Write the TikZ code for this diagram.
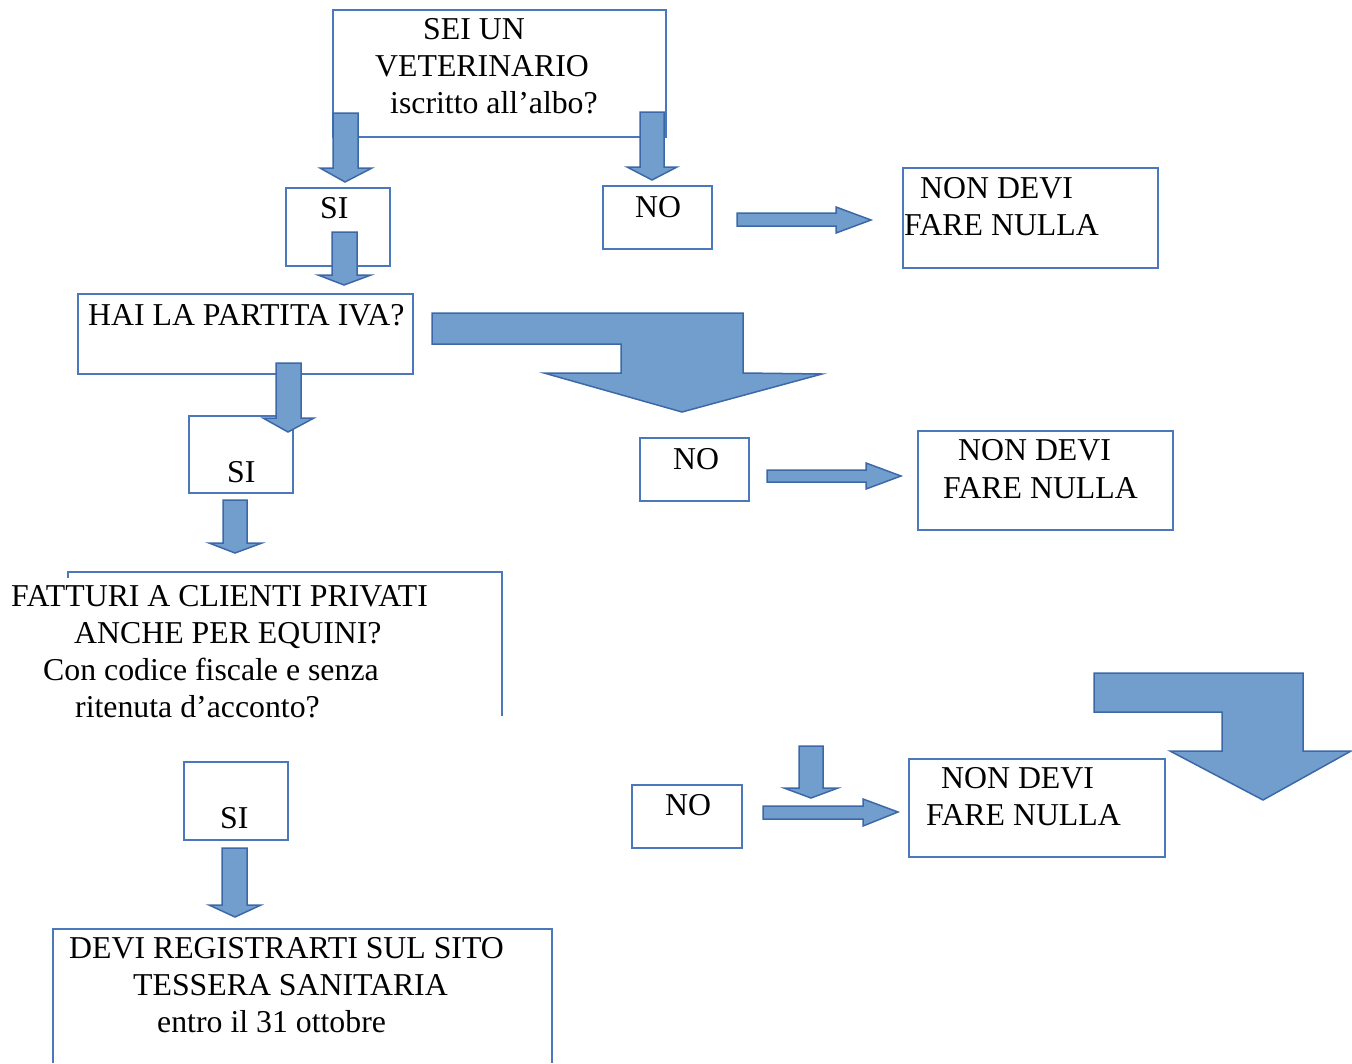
\documentclass[tikz,border=0pt]{standalone}
\usepackage{fontspec}
\setmainfont{Liberation Serif}
\definecolor{boxline}{RGB}{74,120,186}
\definecolor{arrfill}{RGB}{114,158,206}
\definecolor{arrline}{RGB}{60,104,168}
\tikzset{
  box/.style={draw=boxline, line width=1.2pt, fill=white, anchor=north west, inner sep=0pt, outer sep=0pt},
  txt/.style={anchor=base west, inner sep=0pt, font=\fontsize{31.8}{37}\selectfont, text=black},
  blk/.style={fill=arrfill, draw=arrline, line width=1.5pt, line join=miter}
}
\begin{document}
\begin{tikzpicture}[x=1pt,y=-1pt]
\useasboundingbox (0,0) rectangle (1352,1063);
% boxes
\node[box, minimum width=333pt, minimum height=127pt] (q1) at (333,10) {};
\node[box, minimum width=104pt, minimum height=78pt] (si1) at (286,188) {};
\node[box, minimum width=109pt, minimum height=63pt] (no1) at (603,186) {};
\node[box, minimum width=255pt, minimum height=100pt] (nd1) at (903,168) {};
\node[box, minimum width=335pt, minimum height=80pt] (q2) at (78,294) {};
\node[box, minimum width=104pt, minimum height=77pt] (si2) at (189,416) {};
\node[box, minimum width=109pt, minimum height=63pt] (no2) at (640,438) {};
\node[box, minimum width=255pt, minimum height=99pt] (nd2) at (918,431) {};
\draw[boxline, line width=1.2pt] (68,578) coordinate (q3a) -- (68,572) -- (502,572) -- (502,716) coordinate (q3b);
\node[box, minimum width=104pt, minimum height=78pt] (si3) at (184,762) {};
\node[box, minimum width=110pt, minimum height=63pt] (no3) at (632,785) {};
\node[box, minimum width=256pt, minimum height=98pt] (nd3) at (909,759) {};
\draw[boxline, line width=1.2pt] (53,1063) coordinate (fa) -- (53,929) -- (552,929) -- (552,1063) coordinate (fb);
% down block arrows
\draw[blk] (333,113) -- (358,113) -- (358,168) -- (372,168) -- (345,182) -- (320,168) -- (333,168) -- cycle;
\draw[blk] (640,112) -- (664,112) -- (664,167) -- (677,167) -- (652,180) -- (627,167) -- (640,167) -- cycle;
\draw[blk] (332,232) -- (357,232) -- (357,275) -- (371,275) -- (344,285) -- (318,275) -- (332,275) -- cycle;
\draw[blk] (276,363) -- (301,363) -- (301,418) -- (314,418) -- (288,432) -- (263,418) -- (276,418) -- cycle;
\draw[blk] (223,500) -- (247,500) -- (247,543) -- (262,543) -- (235,553) -- (209,543) -- (223,543) -- cycle;
\draw[blk] (222,848) -- (247,848) -- (247,905) -- (261,905) -- (235,917) -- (209,905) -- (222,905) -- cycle;
\draw[blk] (799,746) -- (823,746) -- (823,788) -- (838,788) -- (811,798) -- (784,788) -- (799,788) -- cycle;
% right block arrows
\draw[blk] (737,213) -- (836,213) -- (836,207) -- (871,220) -- (836,233) -- (836,226) -- (737,226) -- cycle;
\draw[blk] (767,470) -- (866,470) -- (866,463) -- (901,476) -- (866,489) -- (866,482) -- (767,482) -- cycle;
\draw[blk] (763,806) -- (863,806) -- (863,799) -- (898,812) -- (863,826) -- (863,819) -- (763,819) -- cycle;
% bent block arrows
\draw[blk] (432,313) -- (743,313) -- (743,373) -- (822,374) -- (682,412) -- (544,373) -- (621,373) -- (621,344) -- (432,344) -- cycle;
\draw[blk] (1094,673) -- (1303,673) -- (1303,751) -- (1351,751) -- (1263,800) -- (1170,751) -- (1222,751) -- (1222,712) -- (1094,712) -- cycle;
% texts
\node[txt] (q1a) at (423,39) {SEI UN};
\node[txt] (q1b) at (375,76) {VETERINARIO};
\node[txt] (q1c) at (390,113) {iscritto all’albo?};
\node[txt] (si1t) at (320,218) {SI};
\node[txt] (no1t) at (635,217) {NO};
\node[txt] (nd1a) at (920,198) {NON DEVI};
\node[txt] (nd1b) at (904,235) {FARE NULLA};
\node[txt] (q2t) at (88,325) {HAI LA PARTITA IVA?};
\node[txt] (si2t) at (227,482) {SI};
\node[txt] (no2t) at (673,469) {NO};
\node[txt] (nd2a) at (958,460) {NON DEVI};
\node[txt] (nd2b) at (943,498) {FARE NULLA};
\node[txt] (q3t1) at (11,606) {FATTURI A CLIENTI PRIVATI};
\node[txt] (q3t2) at (74,643) {ANCHE PER EQUINI?};
\node[txt] (q3t3) at (43,680) {Con codice fiscale e senza};
\node[txt] (q3t4) at (75,717) {ritenuta d’acconto?};
\node[txt] (si3t) at (220,828) {SI};
\node[txt] (no3t) at (665,815) {NO};
\node[txt] (nd3a) at (941,788) {NON DEVI};
\node[txt] (nd3b) at (926,825) {FARE NULLA};
\node[txt] (fin1) at (69,958) {DEVI REGISTRARTI SUL SITO};
\node[txt] (fin2) at (133,995) {TESSERA SANITARIA};
\node[txt] (fin3) at (157,1032) {entro il 31 ottobre};
\end{tikzpicture}
\end{document}
